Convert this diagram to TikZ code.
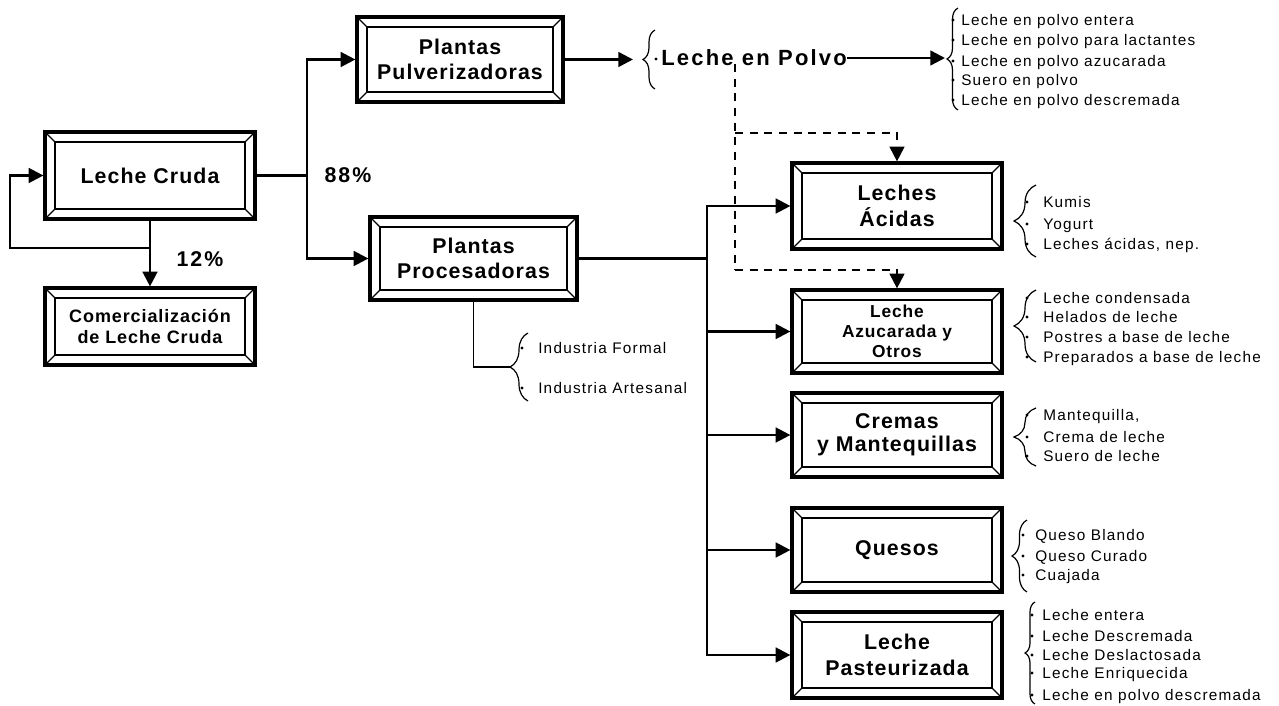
\documentclass[tikz,border=0pt]{standalone}
\usepackage{fontspec}
\setmainfont{Liberation Sans}
\newfontfamily\bxf{Liberation Sans}[LetterSpace=5]
\newfontfamily\lpf{Liberation Sans}[LetterSpace=10]
\newfontfamily\smf{Liberation Sans}[LetterSpace=8]
\usetikzlibrary{arrows.meta,decorations.pathreplacing}
\begin{document}
\begin{tikzpicture}[x=0.75pt,y=-0.75pt,
  bx/.style={draw, line width=2.4pt, inner sep=0pt, align=center},
  bf/.style={font=\bxf\bfseries\fontsize{16}{19}\selectfont},
  ln/.style={line width=1.8pt},
  thinln/.style={line width=1pt},
  ar/.style={ln,-{Triangle[length=11pt,width=11pt]}},
  da/.style={line width=1.5pt, dash pattern=on 6pt off 5pt},
  dar/.style={da,-{Triangle[length=11pt,width=11pt]}},
  brc/.style={line width=0.9pt, decorate},
  it/.style={anchor=west, inner sep=0pt, font=\smf\fontsize{11.5}{13}\selectfont, text height=8.5pt, text depth=2.3pt},
  lbl/.style={inner sep=0pt, font=\lpf\bfseries\fontsize{16}{19}\selectfont}]
\useasboundingbox (0,0) rectangle (1279,706);

% boxes
\node[bx,bf,minimum width=157.5pt,minimum height=65.25pt] (lc) at (150,175.5) {Leche Cruda};
\node[bx,font=\bxf\bfseries\fontsize{13.5}{16}\selectfont,minimum width=157.5pt,minimum height=57.75pt] (cm) at (150,326.5) {Comercialización\\de Leche Cruda};
\node[bx,bf,minimum width=154.5pt,minimum height=63.75pt] (pu) at (460,59.5) {Plantas\\Pulverizadoras};
\node[bx,bf,minimum width=155.25pt,minimum height=62.25pt] (pr) at (473.5,258.5) {Plantas\\Procesadoras};
\node[bx,font=\bxf\bfseries\fontsize{16}{20}\selectfont,minimum width=157.5pt,minimum height=64.5pt] (ac) at (897,206) {Leches\\Ácidas};
\node[bx,font=\bxf\bfseries\fontsize{13}{15}\selectfont,minimum width=157.5pt,minimum height=62.25pt] (az) at (897,331.5) {Leche\\Azucarada y\\Otros};
\node[bx,font=\bxf\bfseries\fontsize{16}{17}\selectfont,minimum width=157.5pt,minimum height=63pt] (cr) at (897,435) {Cremas\\y Mantequillas};
\node[bx,bf,minimum width=157.5pt,minimum height=63pt] (qu) at (897,550) {Quesos};
\node[bx,font=\bxf\bfseries\fontsize{16}{20}\selectfont,minimum width=157.5pt,minimum height=64.5pt] (pa) at (897,655) {Leche\\Pasteurizada};

\foreach \n in {lc,cm,pu,pr,ac,az,cr,qu,pa}{
  \draw[line width=1.5pt] ([shift={(12,12)}]\n.north west) rectangle ([shift={(-12,-12)}]\n.south east);
  \draw[line width=1pt] (\n.north west) -- ++(12,12) (\n.north east) -- ++(-12,12)
        (\n.south west) -- ++(12,-12) (\n.south east) -- ++(-12,-12);
}

% percentages
\node[lbl] (p88) at (348,175) {88\%};
\node[lbl] (p12) at (200,259) {12\%};

% left part connectors
\coordinate (j1) at (307,175.5);
\draw[ln] (lc.east) -- (j1);
\draw[ar] (j1) |- (pu.west);
\draw[ar] (j1) |- (pr.west);
\draw[ar] (lc.south) -- (cm.north);
\coordinate (l1) at (150,248);
\coordinate (l2) at (10,248);
\draw[ar] (l1) -- (l2) |- (lc.west);

% Leche en Polvo
\node[lbl,anchor=west,font=\lpf\bfseries\fontsize{16.5}{19}\selectfont] (lp) at (661,58) {Leche en Polvo};
\fill (656,59) circle[radius=1.3pt];
\draw[brc,decoration={brace,amplitude=9pt}] (655,89) -- (655,30);
\coordinate (bp) at (633,59.5);
\draw[ar] (pu.east) -- (bp);
\coordinate (bq) at (945,59);
\draw[ar] (lp.east) -- (lp.east -| bq);

% powder list
\draw[brc,decoration={brace,amplitude=8.25pt}] (958,110) -- (958,8);
\foreach \y/\t [count=\i] in {20/Leche en polvo entera,40/Leche en polvo para lactantes,61/Leche en polvo azucarada,80/Suero en polvo,100/Leche en polvo descremada}{
  \fill (953,\y) circle[radius=1.2pt];
  \node[it] (pl\i) at (961,\y+1) {\t};
}

% dashed connectors
\coordinate (d0) at (735,64);
\coordinate (d1) at (735,133);
\coordinate (d2) at (735,270);
\draw[da] (d0) -- (d2);
\draw[dar] (d1) -| (ac.north);
\draw[dar] (d2) -| (az.north);

% trunk to product boxes
\coordinate (j2) at (707,258.5);
\draw[ln] (pr.east) -- (j2);
\foreach \n in {ac,az,cr,qu,pa}{
  \draw[ar] (j2) |- (\n.west);
}

% industria list
\coordinate (bt) at (510,367);
\draw[thinln] (pr.south) |- (bt);
\draw[brc,decoration={brace,amplitude=13.5pt}] (528,401) -- (528,333);
\foreach \y/\t [count=\i] in {348/Industria Formal,388/Industria Artesanal}{
  \fill (522,\y) circle[radius=1.2pt];
  \node[it] (in\i) at (538,\y+1) {\t};
}

% acidas list
\draw[brc,decoration={brace,amplitude=16.5pt}] (1036,257) -- (1036,185);
\foreach \y/\t [count=\i] in {202/Kumis,224/Yogurt,244/{Leches ácidas, nep.}}{
  \fill (1027,\y) circle[radius=1.2pt];
  \node[it] (ai\i) at (1043,\y+1) {\t};
}

% azucarada list
\draw[brc,decoration={brace,amplitude=16.5pt}] (1036,362) -- (1036,290);
\foreach \y/\t [count=\i] in {298/Leche condensada,317/Helados de leche,337/Postres a base de leche,357/Preparados a base de leche}{
  \fill (1027,\y) circle[radius=1.2pt];
  \node[it] (zi\i) at (1043,\y+1) {\t};
}

% cremas list
\draw[brc,decoration={brace,amplitude=16.5pt}] (1036,466) -- (1036,408);
\foreach \y/\t [count=\i] in {415/{Mantequilla,},437/Crema de leche,456/Suero de leche}{
  \fill (1027,\y) circle[radius=1.2pt];
  \node[it] (ci\i) at (1043,\y+1) {\t};
}

% quesos list
\draw[brc,decoration={brace,amplitude=11.25pt}] (1027,592) -- (1027,520);
\foreach \y/\t [count=\i] in {535/Queso Blando,556/Queso Curado,575/Cuajada}{
  \fill (1023,\y) circle[radius=1.2pt];
  \node[it] (qi\i) at (1035,\y+1) {\t};
}

% pasteurizada list
\draw[brc,decoration={brace,amplitude=7.5pt}] (1035,704) -- (1035,602);
\foreach \y/\t [count=\i] in {615/Leche entera,636/Leche Descremada,655/Leche Deslactosada,673/Leche Enriquecida,695/Leche en polvo descremada}{
  \fill (1032,\y) circle[radius=1.2pt];
  \node[it] (si\i) at (1042,\y+1) {\t};
}
\end{tikzpicture}
\end{document}
